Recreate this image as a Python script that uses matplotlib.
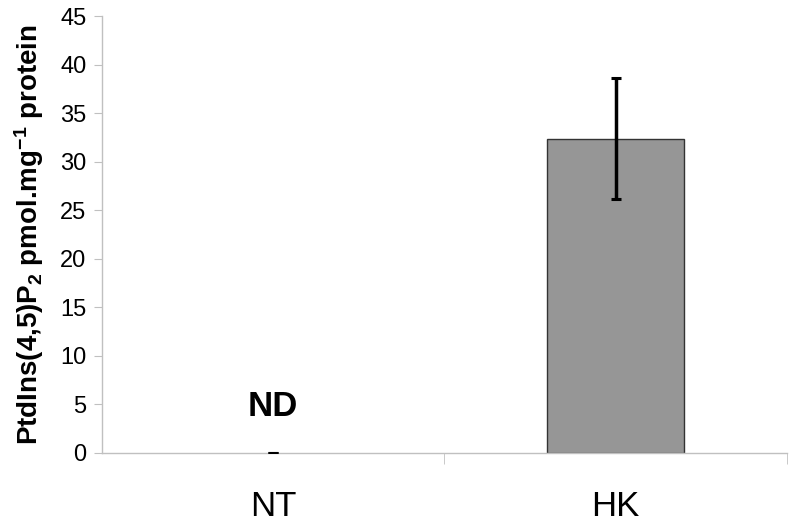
import numpy as np
import matplotlib.pyplot as plt

plt.rcParams['font.family'] = ['Liberation Sans', 'DejaVu Sans']
plt.rcParams['mathtext.fontset'] = 'custom'
plt.rcParams['mathtext.rm'] = 'Liberation Sans:bold'
plt.rcParams['mathtext.bf'] = 'Liberation Sans:bold'
plt.rcParams['mathtext.default'] = 'bf'

# data
groups = ['NT', 'HK']
values = [0.0, 32.4]
err_low = [0.0, 6.2]
err_high = [0.0, 6.2]
nd_label = 'ND'

fig = plt.figure(figsize=(7.95, 5.24), dpi=100)
ax = fig.add_axes([0.128, 0.1355, 0.862, 0.8335])

x = np.arange(len(groups))
ax.bar(x[1:], values[1:], width=0.4, color='#969696', edgecolor='#333333', linewidth=1.0, zorder=2)
ax.errorbar(x, values, yerr=[err_low, err_high], fmt='none', ecolor='black',
            elinewidth=2.5, capsize=3.5, capthick=2.2, zorder=3)

ax.text(x[0], values[0] + 3.1, nd_label, ha='center', va='bottom', fontsize=25, fontweight='bold')

ax.set_xlim(-0.5, 1.5)
ax.set_ylim(0, 45)
ax.set_yticks(np.arange(0, 46, 5))
ax.set_xticks(x)
ax.set_xticklabels(groups, fontsize=25)
ax.set_xticks([0.5, 1.5], minor=True)
ax.tick_params(axis='x', which='major', length=0, pad=27)
ax.tick_params(axis='x', which='minor', length=8, color='#c0c0c0', direction='out')
ax.tick_params(axis='y', labelsize=17, length=6, color='#c0c0c0', direction='out', pad=5)

for s in ['top', 'right']:
    ax.spines[s].set_visible(False)
for s in ['left', 'bottom']:
    ax.spines[s].set_color('#c0c0c0')
    ax.spines[s].set_linewidth(1.0)

ax.set_ylabel('PtdIns(4,5)P$_2$ pmol.mg$^{-1}$ protein', fontsize=20, fontweight='bold', labelpad=10)

fig.savefig('out.png', dpi=100)
